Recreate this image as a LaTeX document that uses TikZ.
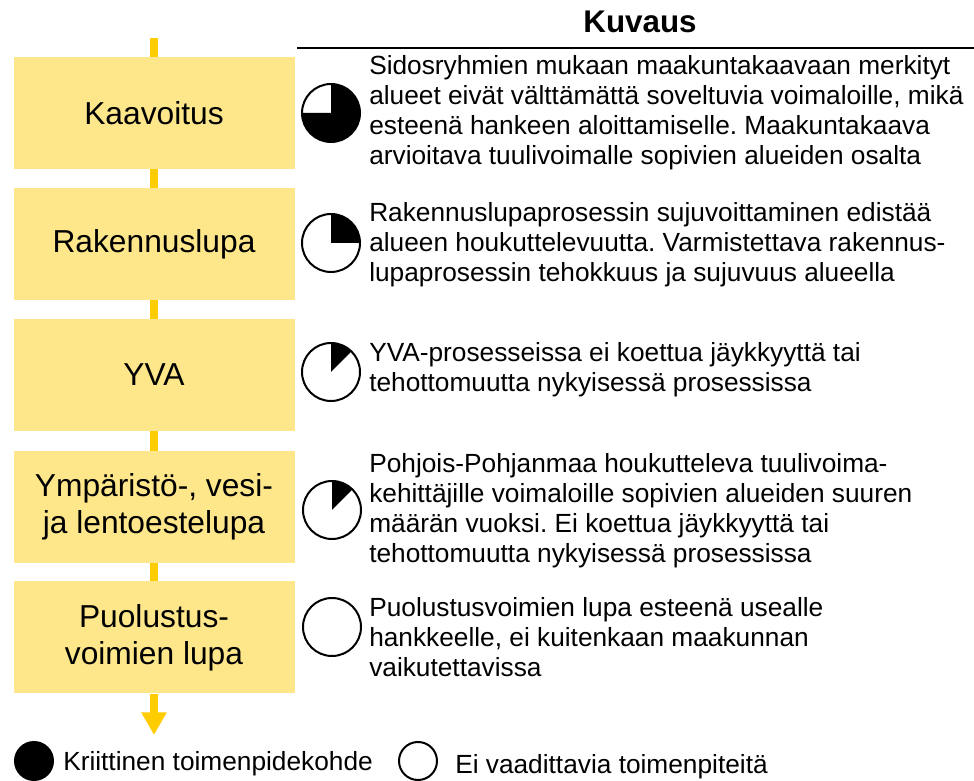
\documentclass[tikz,border=0pt]{standalone}
\usepackage{fontspec}
\setmainfont{Liberation Sans}
\usetikzlibrary{arrows.meta}
\frenchspacing
\definecolor{phasefill}{HTML}{FEE68A}
\definecolor{flowline}{HTML}{FFCC00}
\tikzset{
    phase/.style={fill=phasefill, minimum width=210.75pt, minimum height=84pt, align=center, inner sep=0pt, font=\fontsize{23.8pt}{27.75pt}\selectfont},
    desc/.style={anchor=west, align=left, inner sep=0pt, font=\fontsize{19.7pt}{22.5pt}\selectfont},
    flow/.style={draw=flowline, line width=6pt},
    ball/.style={line width=1.5pt},
}
\begin{document}
\begin{tikzpicture}[x=0.75pt, y=0.75pt]
            \useasboundingbox (0,0) rectangle (974,781);
            \node[phase] (kaava) at (154,668) {Kaavoitus};
            \node[phase] (raklupa) at (154,537) {Rakennuslupa};
            \node[phase] (yva) at (154,406) {YVA};
            \node[phase] (ymparisto) at (154,274) {Ympäristö-, vesi-\\ja lentoestelupa};
            \node[phase] (puolustus) at (154,143.5) {Puolustus-\\voimien lupa};
            \coordinate (alku) at (154,743);
            \coordinate (loppu) at (154,46);
            \draw[flow] (alku) -- (kaava.north);
            \draw[flow] (kaava.south) -- (raklupa.north);
            \draw[flow] (raklupa.south) -- (yva.north);
            \draw[flow] (yva.south) -- (ymparisto.north);
            \draw[flow] (ymparisto.south) -- (puolustus.north);
            \draw[flow, -{Triangle[width=18pt,length=17pt]}] (puolustus.south) -- (loppu);
            \node[font=\bfseries\fontsize{23.5pt}{27pt}\selectfont] (kuvaus) at (640,759) {Kuvaus};
            \draw[line width=1pt] (297,733) -- (974,733);
            \coordinate (p1) at (331,668);
            \coordinate (p2) at (331,538);
            \coordinate (p3) at (331,409);
            \coordinate (p4) at (332,271);
            \coordinate (p5) at (332,154);
            \fill (p1) -- ++(90:29) arc[start angle=90, end angle=-180, radius=29] -- cycle;
            \fill (p2) -- ++(90:29) arc[start angle=90, end angle=0, radius=29] -- cycle;
            \fill (p3) -- ++(90:29) arc[start angle=90, end angle=45, radius=29] -- cycle;
            \fill (p4) -- ++(90:29) arc[start angle=90, end angle=45, radius=29] -- cycle;
            \foreach \p in {p1,p2,p3,p4,p5}
                \draw[ball] (\p) circle (29);
            \node[desc] (d1) at (369,668) {Sidosryhmien mukaan maakuntakaavaan merkityt\\alueet eivät välttämättä soveltuvia voimaloille, mikä\\esteenä hankeen aloittamiselle. Maakuntakaava\\arvioitava tuulivoimalle sopivien alueiden osalta};
            \node[desc] (d2) at (369,536) {Rakennuslupaprosessin sujuvoittaminen edistää\\alueen houkuttelevuutta. Varmistettava rakennus-\\lupaprosessin tehokkuus ja sujuvuus alueella};
            \node[desc] (d3) at (369,411) {YVA-prosesseissa ei koettua jäykkyyttä tai\\tehottomuutta nykyisessä prosessissa};
            \node[desc] (d4) at (369,270) {Pohjois-Pohjanmaa houkutteleva tuulivoima-\\kehittäjille voimaloille sopivien alueiden suuren\\määrän vuoksi. Ei koettua jäykkyyttä tai\\tehottomuutta nykyisessä prosessissa};
            \node[desc] (d5) at (369,144) {Puolustusvoimien lupa esteenä usealle\\hankkeelle, ei kuitenkaan maakunnan\\vaikutettavissa};
            \fill (34,20) circle (20);
            \node[desc, anchor=base west] (kriit) at (63,10) {Kriittinen toimenpidekohde};
            \draw[ball] (418,20) circle (19);
            \node[desc, anchor=base west] (eivaad) at (455,7) {Ei vaadittavia toimenpiteitä};
\end{tikzpicture}
\end{document}
